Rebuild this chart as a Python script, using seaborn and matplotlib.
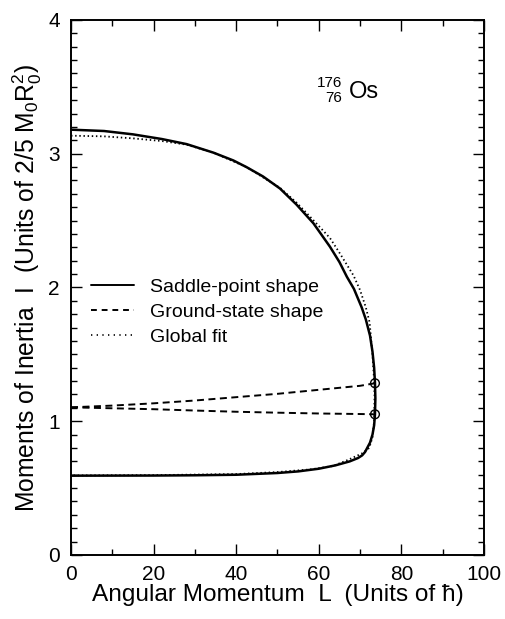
import matplotlib
matplotlib.use("Agg")
import matplotlib.pyplot as plt
import seaborn as sns
import pandas as pd
from matplotlib.ticker import MultipleLocator
from matplotlib.lines import Line2D

# ---- data ----
L_saddle = [0, 8, 15, 22, 28, 34.5, 39.3, 42.5, 46.5, 50.6, 54.6, 58.7, 62.7, 65, 66.8,
            68.5, 70.4, 71.4, 72.4, 73.0, 73.4, 73.6, 73.7, 73.6, 73.4, 73.0, 72.4, 71.2,
            70.5, 69.5, 67.5, 64, 60, 55, 50, 40, 30, 20, 0]
I_saddle = [3.18, 3.17, 3.145, 3.11, 3.072, 3.008, 2.95, 2.90, 2.83, 2.74, 2.62, 2.48, 2.305, 2.19, 2.08,
            1.99, 1.85, 1.76, 1.64, 1.52, 1.40, 1.29, 1.17, 1.05, 0.97, 0.90, 0.84, 0.77,
            0.745, 0.725, 0.70, 0.67, 0.645, 0.625, 0.613, 0.60, 0.596, 0.594, 0.593]

L_fit = [0, 8, 15, 22, 28, 34.5, 42.5, 50.6, 54.6, 57.1, 60, 62.7, 65, 68.4, 70, 71.4, 72.3,
         72.7, 73.0, 73.3, 73.5, 73.4, 73.0, 72.2, 70.5, 67, 63.4, 58, 50, 40, 20, 0]
I_fit = [3.135, 3.13, 3.115, 3.095, 3.068, 3.008, 2.90, 2.745, 2.635, 2.555, 2.46, 2.37, 2.26, 2.09, 1.98, 1.85, 1.74,
         1.60, 1.50, 1.35, 1.20, 1.00, 0.88, 0.80, 0.76, 0.71, 0.665, 0.64, 0.62, 0.605, 0.597, 0.595]

L_ground = [0, 10, 20, 30, 40, 50, 60, 70, 73.6]
I_ground_up = [1.104, 1.117, 1.134, 1.155, 1.18, 1.205, 1.235, 1.265, 1.284]
I_ground_lo = [1.104, 1.097, 1.09, 1.08, 1.071, 1.064, 1.058, 1.054, 1.052]

L_circles = [73.6, 73.6]
I_circles = [1.284, 1.052]

legend_labels = ["Saddle-point shape", "Ground-state shape", "Global fit"]

# ---- style ----
sns.set_theme(style="ticks")
plt.rcParams["font.family"] = ["Liberation Sans", "DejaVu Sans"]
plt.rcParams["mathtext.fontset"] = "custom"
plt.rcParams["mathtext.rm"] = "Liberation Sans"
plt.rcParams["mathtext.it"] = "Liberation Sans:italic"
plt.rcParams["text.color"] = "black"
plt.rcParams["axes.labelcolor"] = "black"
plt.rcParams["xtick.color"] = "black"
plt.rcParams["ytick.color"] = "black"
plt.rcParams["xtick.labelcolor"] = "black"
plt.rcParams["ytick.labelcolor"] = "black"

fig = plt.figure(figsize=(5.05, 6.19), dpi=100)
ax = fig.add_axes([0.1406, 0.1034, 0.8178, 0.8643])

df_s = pd.DataFrame({"L": L_saddle, "I": I_saddle})
df_f = pd.DataFrame({"L": L_fit, "I": I_fit})
df_gu = pd.DataFrame({"L": L_ground, "I": I_ground_up})
df_gl = pd.DataFrame({"L": L_ground, "I": I_ground_lo})

sns.lineplot(data=df_f, x="L", y="I", sort=False, estimator=None, ax=ax,
             color="black", lw=1.3, linestyle=(0, (0.8, 1.5)))
sns.lineplot(data=df_s, x="L", y="I", sort=False, estimator=None, ax=ax,
             color="black", lw=1.8)
for d in (df_gu, df_gl):
    sns.lineplot(data=d, x="L", y="I", sort=False, estimator=None, ax=ax,
                 color="black", lw=1.4, linestyle=(0, (3.6, 2.3)))
sns.scatterplot(x=L_circles, y=I_circles, ax=ax, s=40, facecolor="none",
                edgecolor="black", linewidth=1.0, zorder=5)

ax.set_xlim(0, 100)
ax.set_ylim(0, 4)
ax.xaxis.set_major_locator(MultipleLocator(20))
ax.xaxis.set_minor_locator(MultipleLocator(10))
ax.yaxis.set_major_locator(MultipleLocator(1))
ax.yaxis.set_minor_locator(MultipleLocator(0.1))
ax.tick_params(which="both", direction="in", top=True, right=True, color="black", width=1.0)
ax.tick_params(which="major", length=8, labelsize=15)
ax.tick_params(axis="x", which="major", pad=7)
ax.tick_params(axis="y", which="major", pad=8)
ax.tick_params(which="minor", length=4.5)
for sp in ax.spines.values():
    sp.set_linewidth(1.4)
    sp.set_color("black")
    sp.set_visible(True)

ax.set_xlabel("Angular Momentum  L  (Units of \u0127)", fontsize=17.6, labelpad=0)
ax.set_ylabel("Moments of Inertia  I  (Units of 2/5 M$_0$R$_0^2$)", fontsize=17.8, labelpad=3)

handles = [Line2D([], [], color="black", lw=1.4),
           Line2D([], [], color="black", lw=1.4, linestyle=(0, (3, 2.5))),
           Line2D([], [], color="black", lw=1.2, linestyle=(0, (0.8, 2.6)))]
ax.legend(handles, legend_labels, loc="upper left", bbox_to_anchor=(0.03, 0.532),
          frameon=False, fontsize=14, handlelength=2.2, handletextpad=0.8,
          labelspacing=0.38, borderaxespad=0)

ax.text(65.6, 3.527, "176", fontsize=11, ha="right", va="center")
ax.text(65.6, 3.414, "76", fontsize=11, ha="right", va="center")
ax.text(67.3, 3.464, "Os", fontsize=17, ha="left", va="center")

fig.savefig("out.png", dpi=100)
